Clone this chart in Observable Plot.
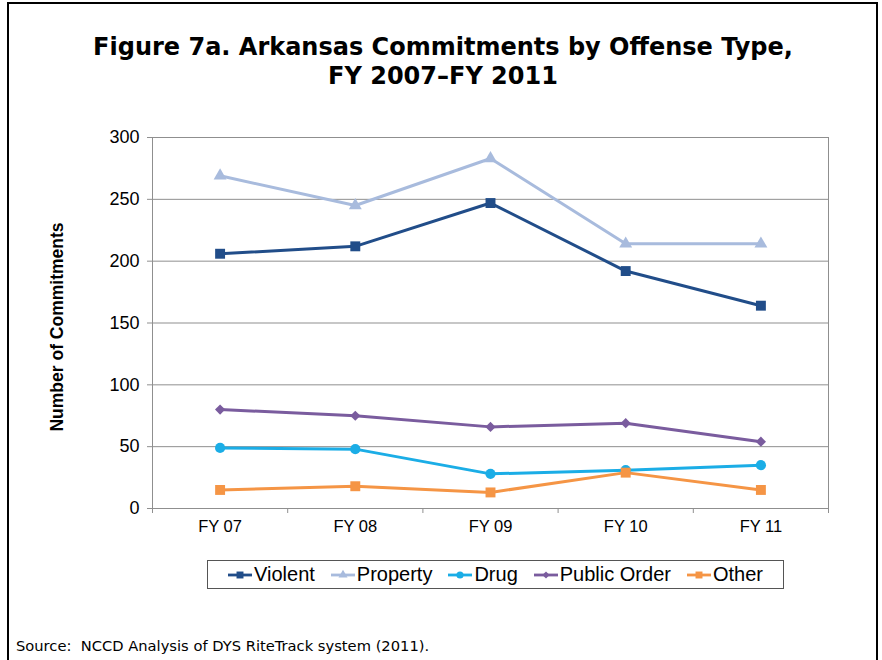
<!DOCTYPE html>
<html><head><meta charset="utf-8">
<script src="https://cdn.jsdelivr.net/npm/d3@7"></script>
<script src="https://cdn.jsdelivr.net/npm/@observablehq/plot@0.6"></script>
<style>
body{margin:0;background:#fff;}
#page{position:relative;width:882px;height:660px;overflow:hidden;background:#fff;}
#border{position:absolute;left:7px;top:2px;width:871px;height:700px;border:2px solid #000;box-sizing:border-box;}
#title{position:absolute;left:0;width:886px;top:33px;text-align:center;font-family:"DejaVu Sans";font-weight:bold;font-size:24px;line-height:29px;color:#000;}
#chart{position:absolute;left:0;top:0;}
#legend{position:absolute;left:207px;top:560px;width:577px;height:29px;border:1px solid #555;box-sizing:border-box;display:flex;align-items:center;justify-content:center;gap:16px;font-family:"Liberation Sans",Arial;font-size:20px;color:#000;}
.item{display:flex;align-items:center;gap:2px;}
#source{position:absolute;left:16px;top:637px;font-family:"DejaVu Sans";font-size:14.7px;color:#000;white-space:pre;}
</style></head>
<body>
<div id="page">
  <div id="chart"></div>
  <div id="border"></div>
  <div id="title">Figure 7a. Arkansas Commitments by Offense Type,<br>FY 2007–FY 2011</div>
  <div id="legend"></div>
  <div id="source">Source:  NCCD Analysis of DYS RiteTrack system (2011).</div>
</div>
<script>
const categories = ["FY 07", "FY 08", "FY 09", "FY 10", "FY 11"];
const series = ["Violent", "Property", "Drug", "Public Order", "Other"];
const violent = [206, 212, 247, 192, 164];
const property = [269, 245, 283, 214, 214];
const drug = [49, 48, 28, 31, 35];
const publicOrder = [80, 75, 66, 69, 54];
const other = [15, 18, 13, 29, 15];
const yTicks = [0, 50, 100, 150, 200, 250, 300];
const colors = ["#214D89", "#A8BBDD", "#1BADE6", "#7A5C9E", "#F59545"];
const symbols = ["square", "triangle", "circle", "diamond2", "square"];
const radii = [5.6, 4.8, 5.1, 4.6, 5.6];

const values = [violent, property, drug, publicOrder, other];
const rows = [];
series.forEach((s, k) => values[k].forEach((v, i) => rows.push({series: s, i, value: v})));
const boundaries = d3.range(-0.5, categories.length, 1);

const marks = [
  Plot.gridY(yTicks, {stroke: "#8f8f8f", strokeOpacity: 1}),
  Plot.frame({stroke: "#8f8f8f"}),
  Plot.axisY(yTicks, {tickSize: 5, text: null, stroke: "#8f8f8f", label: null}),
  Plot.axisY(yTicks, {tickSize: 0, tickPadding: 13, fill: "#000", fontSize: 18, label: null}),
  Plot.axisX(boundaries, {tickSize: 5, text: null, stroke: "#8f8f8f", label: null}),
  Plot.axisX(d3.range(categories.length), {tickSize: 0, tickPadding: 12, fill: "#000", fontSize: 16.5, tickFormat: i => categories[i], label: null}),
  Plot.line(rows, {x: "i", y: "value", z: "series", stroke: "series", strokeWidth: 3})
];
series.forEach((s, k) => {
  marks.push(Plot.dot(rows.filter(d => d.series === s), {x: "i", y: "value", symbol: "series", fill: "series", stroke: null, r: radii[k]}));
});
marks.push(Plot.text(["Number of Commitments"], {frameAnchor: "left", dx: -95, dy: 4, rotate: -90, textAnchor: "middle", fontWeight: "bold", fontSize: 17.5, fill: "#000"}));

const chart = Plot.plot({
  width: 882, height: 560,
  marginTop: 137, marginBottom: 52, marginLeft: 152, marginRight: 54,
  style: {fontFamily: "Liberation Sans, Arial, sans-serif", fontSize: "16.5px", color: "#000", background: "transparent", overflow: "visible"},
  x: {domain: [-0.5, categories.length - 0.5], axis: null},
  y: {domain: [0, 300], axis: null},
  color: {domain: series, range: colors},
  symbol: {domain: series, range: symbols},
  marks
});
document.getElementById("chart").appendChild(chart);

const legend = d3.select("#legend");
const symMap = {square: d3.symbolSquare, triangle: d3.symbolTriangle, circle: d3.symbolCircle, diamond2: d3.symbolDiamond2};
series.forEach((s, k) => {
  const item = legend.append("div").attr("class", "item");
  const svg = item.append("svg").attr("width", 24).attr("height", 14);
  svg.append("line").attr("x1", 0).attr("x2", 24).attr("y1", 7).attr("y2", 7).attr("stroke", colors[k]).attr("stroke-width", 2.8);
  svg.append("path").attr("transform", "translate(12,7)").attr("fill", colors[k])
    .attr("d", d3.symbol(symMap[symbols[k]], Math.PI * (radii[k] * 0.7) ** 2)());
  item.append("span").text(s);
});
</script>
</body></html>
